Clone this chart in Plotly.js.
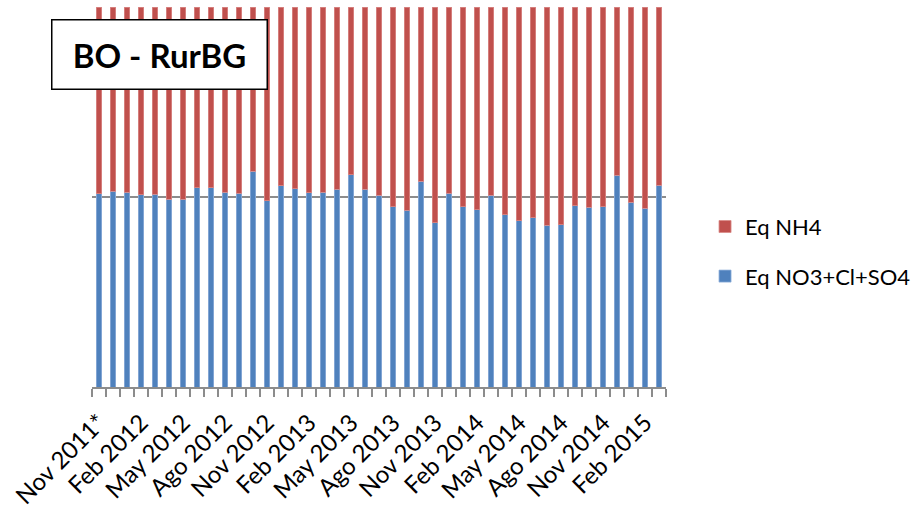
<!DOCTYPE html>
<html>
<head>
<meta charset="utf-8">
<script src="https://cdn.plot.ly/plotly-3.0.1.min.js"></script>
<style>html,body{margin:0;padding:0;background:#fff;}#chart{width:923px;height:509px;}</style>
</head>
<body>
<div id="chart"></div>
<script>
// Months (categories), Nov 2011 - Mar 2015
const months = [
  "Nov 2011*","Dic 2011","Ene 2012","Feb 2012","Mar 2012","Abr 2012","May 2012","Jun 2012","Jul 2012","Ago 2012","Sep 2012","Oct 2012",
  "Nov 2012","Dic 2012","Ene 2013","Feb 2013","Mar 2013","Abr 2013","May 2013","Jun 2013","Jul 2013","Ago 2013","Sep 2013","Oct 2013",
  "Nov 2013","Dic 2013","Ene 2014","Feb 2014","Mar 2014","Abr 2014","May 2014","Jun 2014","Jul 2014","Ago 2014","Sep 2014","Oct 2014",
  "Nov 2014","Dic 2014","Ene 2015","Feb 2015","Mar 2015"
];
// Tick labels shown (every third month)
const tickLabels = [
  "Nov 2011*","","","Feb 2012","","","May 2012","","","Ago 2012","","",
  "Nov 2012","","","Feb 2013","","","May 2013","","","Ago 2013","","",
  "Nov 2013","","","Feb 2014","","","May 2014","","","Ago 2014","","",
  "Nov 2014","","","Feb 2015",""
];
// Share (%) of Eq NO3+Cl+SO4
const anions = [
  50.8,51.5,51.2,50.6,50.7,49.4,49.4,52.4,52.4,51.2,51.0,56.8,
  49.0,53.0,52.2,51.1,51.2,52.1,55.9,52.1,50.5,47.4,46.5,54.2,
  43.2,51.0,47.4,46.7,50.4,45.3,43.7,44.5,42.6,42.7,47.7,47.3,
  47.4,55.7,48.6,47.1,53.1
];
// Share (%) of Eq NH4
const ammonium = [
  49.2,48.5,48.8,49.4,49.3,50.6,50.6,47.6,47.6,48.8,49.0,43.2,
  51.0,47.0,47.8,48.9,48.8,47.9,44.1,47.9,49.5,52.6,53.5,45.8,
  56.8,49.0,52.6,53.3,49.6,54.7,56.3,55.5,57.4,57.3,52.3,52.7,
  52.6,44.3,51.4,52.9,46.9
];

const FONT = "Lato, 'Open Sans', sans-serif";

const traces = [
  {
    type: "bar", name: "Eq NO3+Cl+SO4", x: months, y: anions,
    marker: {color: "#4F81BD", line: {color: "#8EAEDA", width: 0.8}},
    legendgroup: "b", legendrank: 2, hoverinfo: "x+y+name"
  },
  {
    type: "bar", name: "Eq NH4", x: months, y: ammonium,
    marker: {color: "#C0504D", line: {color: "#D98A88", width: 0.8}},
    legendgroup: "a", legendrank: 1, hoverinfo: "x+y+name"
  }
];

const layout = {
  width: 923, height: 509,
  paper_bgcolor: "#fff", plot_bgcolor: "#fff",
  margin: {l: 92, r: 251, t: 7, b: 122, pad: 0},
  barmode: "stack", bargap: 0.575,
  font: {family: FONT, color: "#000"},
  xaxis: {
    type: "category", categoryorder: "array", categoryarray: months,
    tickmode: "array", tickvals: months, ticktext: tickLabels,
    tickson: "boundaries", ticks: "outside", ticklen: 8, tickwidth: 2, tickcolor: "#8c8c8c",
    tickangle: -45, tickfont: {family: FONT, size: 24, color: "#000"},
    ticklabelstandoff: 10,
    showline: true, linecolor: "#8c8c8c", linewidth: 2,
    showgrid: false, zeroline: false, range: [-0.5, 40.5], fixedrange: true
  },
  yaxis: {
    range: [0, 100], tickmode: "linear", tick0: 0, dtick: 50,
    showticklabels: false, ticks: "",
    showgrid: true, gridcolor: "#8c8c8c", gridwidth: 2,
    zeroline: false, showline: false, fixedrange: true
  },
  showlegend: true,
  legend: {
    x: 1.068, xanchor: "left", y: 0.356, yanchor: "middle",
    traceorder: "grouped", tracegroupgap: 18,
    font: {family: FONT, size: 22, color: "#000"},
    bgcolor: "rgba(0,0,0,0)", borderwidth: 0
  },
  annotations: [{
    xref: "paper", yref: "paper", x: 0.117, y: 0.876,
    xanchor: "center", yanchor: "middle",
    text: "<b>BO - RurBG</b>", showarrow: false,
    font: {family: FONT, size: 33, color: "#000"},
    bgcolor: "#fff", bordercolor: "#000", borderwidth: 1.5, borderpad: 0,
    width: 214, height: 68
  }]
};

Plotly.newPlot("chart", traces, layout, {displayModeBar: false, staticPlot: true});
</script>
</body>
</html>
